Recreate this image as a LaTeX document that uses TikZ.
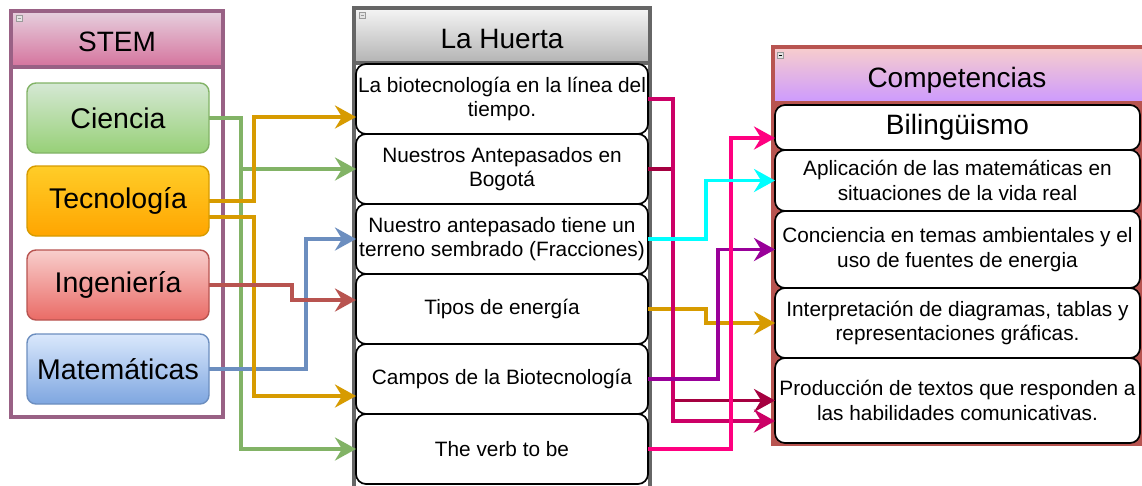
\documentclass[tikz,border=0pt]{standalone}
\usepackage{fontspec}
\setmainfont{Liberation Sans}
\usetikzlibrary{arrows.meta,calc}
\definecolor{stemB}{HTML}{996185}
\definecolor{stemT}{HTML}{E6D0DE}
\definecolor{stemBot}{HTML}{D5739D}
\definecolor{hueB}{HTML}{666666}
\definecolor{hueT}{HTML}{F5F5F5}
\definecolor{hueBot}{HTML}{B3B3B3}
\definecolor{comB}{HTML}{B85450}
\definecolor{comT}{HTML}{F8CECC}
\definecolor{comBot}{HTML}{CC99FF}
\definecolor{gT}{HTML}{D5E8D4}
\definecolor{gB}{HTML}{97D077}
\definecolor{gS}{HTML}{82B366}
\definecolor{oT}{HTML}{FFCD28}
\definecolor{oB}{HTML}{FFA500}
\definecolor{oS}{HTML}{D79B00}
\definecolor{rT}{HTML}{F8CECC}
\definecolor{rB}{HTML}{EA6B66}
\definecolor{rS}{HTML}{B85450}
\definecolor{bT}{HTML}{DAE8FC}
\definecolor{bB}{HTML}{7EA6E0}
\definecolor{bS}{HTML}{6C8EBF}
\definecolor{lnOrange}{HTML}{D79B00}
\definecolor{lnMagenta}{HTML}{CC0066}
\definecolor{lnCrimson}{HTML}{A50040}
\definecolor{lnHot}{HTML}{FF0080}
\definecolor{lnCyan}{HTML}{00FFFF}
\definecolor{lnPurple}{HTML}{990099}
\definecolor{iconF}{HTML}{E4E4E4}
\definecolor{iconD}{HTML}{9A9A9A}
\begin{document}
\begin{tikzpicture}[x=1pt,y=-1pt,
  every node/.style={outer sep=0pt,inner sep=0pt},
  sbox/.style={rounded corners=9pt,line width=1.4pt,minimum width=182pt,minimum height=70pt,font=\fontsize{28.5}{32}\selectfont},
  hbox/.style={rounded corners=10pt,draw=black,line width=1.7pt,fill=white,minimum width=292pt,minimum height=70pt,align=center,font=\fontsize{20.8}{24.5}\selectfont},
  cbox/.style={rounded corners=10pt,draw=black,line width=1.7pt,fill=white,minimum width=365pt,align=center,font=\fontsize{20.8}{24.5}\selectfont},
  headtext/.style={font=\fontsize{28}{32}\selectfont},
  conn/.style={line width=3.8pt,-{Stealth[length=21pt,width=23pt,inset=7pt]}},
  icon/.style={fill=iconF,draw=iconD,line width=0.6pt}
]
\useasboundingbox (0,0) rectangle (1142,485);
\clip (0,0) rectangle (1142,485);
\fill[white] (0,0) rectangle (1142,485);

% ---------- STEM container ----------
\draw[stemB,line width=3.2pt,fill=white] (11,67) rectangle (223,417);
\draw[stemB,line width=3.2pt,top color=stemT,bottom color=stemBot] (11,11) rectangle (223,67);
\node[headtext] (stemh) at (117,42) {STEM};
\draw[icon] (16,15) rectangle (22,21);
\draw[iconD,line width=0.6pt] (17.5,18) -- (20.5,18);

\node[sbox,draw=gS,top color=gT,bottom color=gB] (cien) at (118,118) {Ciencia};
\node[sbox,draw=oS,top color=oT,bottom color=oB] (tec) at (118,201) {Tecnología};
\node[sbox,draw=rS,top color=rT,bottom color=rB] (ing) at (118,285) {Ingeniería};
\node[sbox,draw=bS,top color=bT,bottom color=bB] (mat) at (118,369) {Matemáticas};

% ---------- La Huerta container ----------
\draw[hueB,line width=3.2pt,fill=white] (354,63) rectangle (650,495);
\draw[hueB,line width=3.2pt,top color=hueT,bottom color=hueBot] (354,8) rectangle (650,63);
\node[headtext] (hueh) at (502,39) {La Huerta};
\draw[icon] (359,12) rectangle (365,18);
\draw[iconD,line width=0.6pt] (360.5,15) -- (363.5,15);

\node[hbox] (h1) at (502,99) {La biotecnología en la línea del\\tiempo.};
\node[hbox] (h2) at (502,169) {Nuestros Antepasados en\\Bogotá};
\node[hbox] (h3) at (502,239) {Nuestro antepasado tiene un\\terreno sembrado (Fracciones)};
\node[hbox] (h4) at (502,309) {Tipos de energía};
\node[hbox] (h5) at (502,379) {Campos de la Biotecnología};
\node[hbox] (h6) at (502,449) {The verb to be};

% ---------- Competencias container ----------
\draw[comB,line width=3.2pt,fill=comB] (773,103) rectangle (1146,444);
\draw[comB,line width=3.2pt,top color=comT,bottom color=comBot] (773,47) rectangle (1146,103);
\node[headtext] (comh) at (957,80) {Competencias};
\draw[icon] (777,52) rectangle (783,58);
\draw[black,line width=0.8pt] (778.5,55) -- (781.5,55);

\node[cbox,minimum height=45pt,font=\fontsize{28}{32}\selectfont] (c1) at (957.5,127.5) {Bilingüismo};
\node[cbox,minimum height=61pt] (c2) at (957.5,180.5) {Aplicación de las matemáticas en\\situaciones de la vida real};
\node[cbox,minimum height=77pt] (c3) at (957.5,249.5) {Conciencia en temas ambientales y el\\uso de fuentes de energia};
\node[cbox,minimum height=70pt] (c4) at (957.5,323) {Interpretación de diagramas, tablas y\\representaciones gráficas.};
\node[cbox,minimum height=85pt] (c5) at (957.5,400.5) {Producción de textos que responden a\\las habilidades comunicativas.};

% ---------- left connectors ----------
\draw[conn,gS] (cien.east) -- ++(32,0) |- (h2.west);
\draw[conn,gS] (cien.east) -- ++(32,0) |- (h6.west);
\draw[conn,bS] (mat.east) -- ++(97,0) |- (h3.west);
\draw[conn,lnOrange] (tec.east) -- ++(45,0) |- ([yshift=-18pt]h1.west);
\draw[conn,lnOrange] ([yshift=-16pt]tec.east) -- ++(45,0) |- ([yshift=-17pt]h5.west);
\draw[conn,rS] (ing.east) -- ++(83,0) |- ([yshift=9pt]h4.west);

% ---------- right connectors ----------
\draw[conn,lnOrange] (h4.east) -- ++(58,0) |- (c4.west);
\draw[conn,lnCrimson] (h2.east) -- ++(25,0) |- (c5.west);
\draw[conn,lnMagenta] (h1.east) -- ++(25,0) |- ([yshift=-20.5pt]c5.west);
\draw[conn,lnPurple] (h5.east) -- ++(70,0) |- (c3.west);
\draw[conn,lnHot] (h6.east) -- ++(83,0) |- ([yshift=-10.5pt]c1.west);
\draw[conn,lnCyan] (h3.east) -- ++(58,0) |- (c2.west);
\end{tikzpicture}
\end{document}
